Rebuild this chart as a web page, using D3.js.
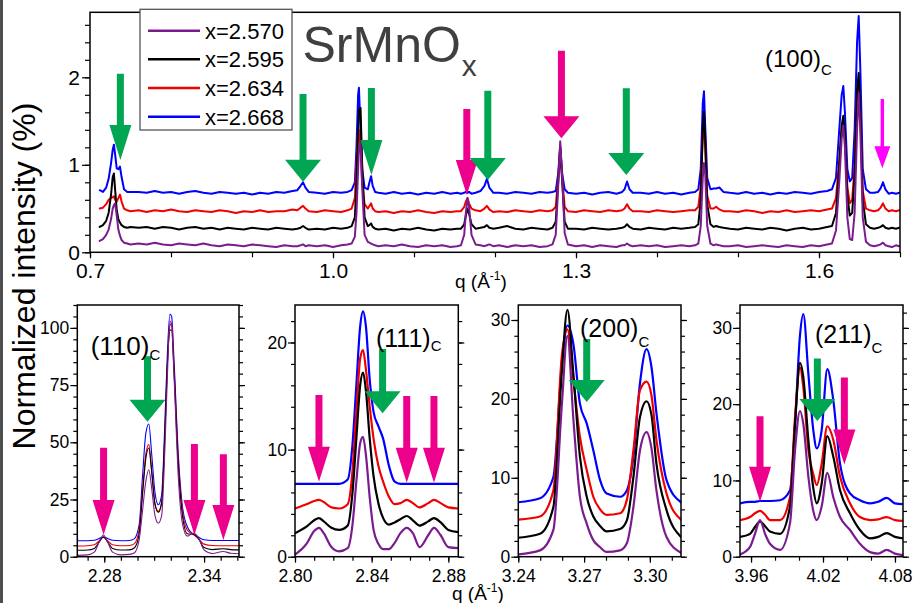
<!DOCTYPE html>
<html>
<head>
<meta charset="utf-8">
<script src="https://cdn.jsdelivr.net/npm/d3@7/dist/d3.min.js"></script>
<style>
  body { margin: 0; background: #fff; }
  svg { display: block; font-family: "Liberation Sans", Arial, Helvetica, sans-serif; }
</style>
</head>
<body>
<script>
// ---- series (oxygen content x) ----
const seriesNames  = ["x=2.570", "x=2.595", "x=2.634", "x=2.668"];
const seriesColors = ["#7b1c8e", "#000000", "#f00000", "#0000ff"];

// ---- wide scan, q = 0.71 .. 1.70 1/A (normalized intensity, %) ----
const qWide = [
  0.712,0.716,0.720,0.723,0.726,0.728,0.7295,0.731,0.733,0.735,0.737,0.739,0.742,0.746,0.750,
  0.76,0.77,0.78,0.79,0.80,0.81,0.82,0.83,0.84,0.85,0.86,0.87,0.88,0.89,0.90,0.91,0.92,0.93,0.94,0.95,
  0.956,0.960,0.963,0.966,0.970,
  0.98,0.99,1.00,1.01,1.018,
  1.023,1.027,1.029,1.031,1.032,1.034,1.036,1.039,1.043,1.045,1.047,1.049,1.052,1.056,
  1.065,1.075,1.085,1.095,1.105,1.115,1.125,1.135,1.145,1.153,
  1.158,1.162,1.164,1.166,1.168,1.171,1.176,1.182,1.187,1.190,1.193,1.198,
  1.205,1.215,1.225,1.235,1.245,1.255,1.265,1.271,
  1.275,1.278,1.2805,1.283,1.286,1.29,
  1.30,1.31,1.32,1.33,1.34,1.35,1.357,
  1.360,1.363,1.366,1.370,
  1.38,1.39,1.40,1.41,1.42,1.43,1.44,1.447,
  1.451,1.454,1.4565,1.458,1.4595,1.462,1.466,1.470,1.473,1.477,1.482,
  1.49,1.50,1.51,1.52,1.53,1.54,1.55,1.56,1.57,1.58,1.59,1.60,1.61,
  1.616,1.621,1.625,1.628,1.630,1.632,1.635,1.638,1.641,1.644,1.647,1.649,1.651,1.654,1.658,1.663,
  1.668,1.673,
  1.676,1.679,1.682,
  1.686,1.690,1.695,1.699
];
const wide2570 = [
  0.13,0.15,0.20,0.26,0.38,0.50,0.54,0.56,0.42,0.26,0.19,0.14,0.11,0.10,0.09,
  0.10,0.09,0.11,0.09,0.08,0.10,0.09,0.08,0.10,0.08,0.07,0.09,0.08,0.07,0.09,0.08,0.07,0.06,0.08,0.07,
  0.07,0.08,0.09,0.07,0.08,
  0.07,0.08,0.06,0.08,0.09,
  0.10,0.18,0.45,0.95,1.18,1.25,0.75,0.20,0.12,0.11,0.10,0.09,0.08,0.07,
  0.08,0.07,0.09,0.07,0.06,0.08,0.07,0.08,0.06,0.07,
  0.08,0.20,0.45,0.62,0.52,0.20,0.09,0.08,0.07,0.08,0.09,0.07,
  0.08,0.06,0.08,0.07,0.08,0.06,0.07,0.09,
  0.20,0.75,1.27,0.85,0.22,0.09,
  0.07,0.08,0.06,0.08,0.07,0.06,0.08,
  0.08,0.10,0.08,0.07,
  0.08,0.07,0.08,0.06,0.07,0.08,0.07,0.08,
  0.10,0.30,0.85,1.02,0.90,0.30,0.10,0.08,0.09,0.08,0.07,
  0.07,0.08,0.06,0.07,0.08,0.07,0.06,0.08,0.07,0.06,0.08,0.07,0.09,
  0.10,0.25,0.80,1.30,1.45,1.20,0.40,0.15,0.14,0.45,1.40,1.82,1.40,0.40,0.12,0.08,
  0.07,0.08,
  0.09,0.11,0.08,
  0.07,0.06,0.08,0.07
];
const wide2595 = [
  0.29,0.31,0.36,0.45,0.66,0.86,0.90,0.72,0.48,0.38,0.34,0.31,0.29,0.28,0.29,
  0.28,0.29,0.27,0.29,0.28,0.26,0.28,0.29,0.27,0.28,0.26,0.28,0.27,0.26,0.28,0.27,0.26,0.28,0.27,0.26,
  0.27,0.28,0.30,0.28,0.26,
  0.27,0.26,0.28,0.27,0.28,
  0.30,0.40,0.80,1.40,1.62,1.65,1.00,0.40,0.30,0.31,0.33,0.29,0.27,0.26,
  0.27,0.25,0.27,0.26,0.28,0.26,0.25,0.27,0.26,0.27,
  0.27,0.32,0.42,0.50,0.44,0.32,0.27,0.28,0.29,0.31,0.28,0.27,
  0.28,0.30,0.27,0.26,0.28,0.27,0.26,0.28,
  0.35,0.80,1.18,0.80,0.35,0.27,
  0.27,0.26,0.28,0.27,0.26,0.27,0.28,
  0.29,0.32,0.29,0.27,
  0.26,0.28,0.27,0.26,0.28,0.27,0.28,0.29,
  0.32,0.60,1.40,1.61,1.30,0.55,0.32,0.29,0.30,0.29,0.28,
  0.27,0.26,0.28,0.27,0.26,0.28,0.27,0.25,0.27,0.28,0.26,0.27,0.29,
  0.30,0.45,1.00,1.45,1.56,1.35,0.65,0.42,0.45,0.90,1.85,2.05,1.60,0.60,0.32,0.28,
  0.27,0.28,
  0.29,0.31,0.28,
  0.27,0.28,0.27,0.28
];
const wide2634 = [
  0.50,0.51,0.55,0.60,0.62,0.63,0.64,0.60,0.58,0.62,0.66,0.58,0.50,0.48,0.47,
  0.48,0.46,0.48,0.47,0.49,0.47,0.46,0.48,0.47,0.46,0.48,0.47,0.45,0.47,0.46,0.48,0.46,0.47,0.47,0.49,
  0.48,0.51,0.53,0.50,0.47,
  0.46,0.48,0.47,0.46,0.48,
  0.50,0.62,1.00,1.38,1.40,1.20,0.80,0.55,0.50,0.53,0.56,0.50,0.47,0.46,
  0.47,0.45,0.47,0.46,0.48,0.46,0.45,0.47,0.46,0.47,
  0.47,0.52,0.58,0.62,0.56,0.50,0.48,0.47,0.50,0.53,0.49,0.46,
  0.47,0.46,0.48,0.47,0.46,0.48,0.47,0.48,
  0.52,0.85,1.20,0.85,0.52,0.47,
  0.46,0.48,0.47,0.46,0.48,0.47,0.48,
  0.50,0.55,0.50,0.47,
  0.47,0.46,0.48,0.47,0.46,0.47,0.48,0.48,
  0.52,0.75,1.35,1.46,1.20,0.65,0.50,0.50,0.52,0.49,0.47,
  0.47,0.46,0.48,0.47,0.45,0.47,0.46,0.48,0.46,0.47,0.48,0.47,0.49,
  0.50,0.62,1.05,1.40,1.48,1.30,0.75,0.56,0.60,1.00,1.85,1.95,1.60,0.70,0.50,0.48,
  0.47,0.48,
  0.51,0.56,0.50,
  0.47,0.48,0.47,0.48
];
const wide2668 = [
  0.71,0.69,0.74,0.84,1.02,1.17,1.23,1.12,0.96,0.95,0.98,0.86,0.72,0.69,0.69,
  0.69,0.68,0.70,0.68,0.69,0.67,0.69,0.70,0.68,0.67,0.69,0.68,0.67,0.68,0.66,0.68,0.67,0.69,0.68,0.70,
  0.71,0.76,0.80,0.74,0.69,
  0.68,0.67,0.69,0.68,0.69,
  0.71,0.80,1.20,1.80,1.88,1.40,0.95,0.74,0.72,0.80,0.87,0.76,0.69,0.68,
  0.67,0.69,0.67,0.68,0.66,0.68,0.67,0.69,0.67,0.68,
  0.67,0.68,0.69,0.68,0.69,0.67,0.68,0.70,0.76,0.84,0.74,0.68,
  0.68,0.67,0.69,0.68,0.67,0.69,0.68,0.69,
  0.70,0.90,1.22,0.90,0.72,0.68,
  0.67,0.68,0.66,0.68,0.69,0.67,0.69,
  0.72,0.81,0.72,0.68,
  0.68,0.67,0.69,0.67,0.68,0.66,0.68,0.69,
  0.72,0.95,1.70,1.84,1.45,0.85,0.72,0.73,0.73,0.74,0.69,
  0.68,0.67,0.69,0.67,0.68,0.66,0.68,0.67,0.69,0.68,0.67,0.69,0.70,
  0.72,0.85,1.40,1.80,1.90,1.60,0.95,0.81,0.85,1.40,2.40,2.70,2.10,0.95,0.72,0.68,
  0.68,0.69,
  0.73,0.80,0.72,
  0.67,0.68,0.67,0.68
];

// ---- (110)c reflection ----
const q110 = [2.264,2.270,2.274,2.277,2.2795,2.282,2.285,2.290,2.295,2.298,2.301,2.303,2.305,2.3068,2.3085,2.3105,2.3125,2.3145,2.3165,2.318,2.3195,2.3205,2.322,2.3245,2.327,2.330,2.3335,2.3365,2.340,2.345,2.3515,2.356,2.361];
const p110_2570 = [0.6,0.8,2.0,6.5,9.5,6.5,2.0,0.8,1.0,1.6,7.5,20,33,38,30,18,14.7,18,48,80,103,101,78,35,14.5,9,10.3,8.5,3,1.4,2.3,1.5,1.3];
const p110_2595 = [2.8,2.9,3.6,6.5,8.6,6.5,3.6,2.9,3.0,3.8,10,27,43,47.5,37,23,19.4,23.5,55,85,99,99,80,40,18,10,9.8,8,4,3.1,3.5,3.1,3.0];
const p110_2634 = [4.7,4.8,5.2,7.0,8.6,7.0,5.2,4.8,4.9,5.6,12,29,45,49,38,23,19.8,24,55,85,101,102,82,42,20,11.5,9.8,8,5.5,4.9,4.8,4.8,4.8];
const p110_2668 = [7.0,7.0,7.2,8.0,8.6,8.0,7.2,7.0,7.1,7.8,14,35,54,58,45,28,22.7,27,60,90,106,105,85,45,22,13,9.8,8.6,7.4,7.1,7.1,7.1,7.1];

// ---- (111)c reflection ----
const q111 = [2.800,2.806,2.810,2.8125,2.815,2.819,2.823,2.8275,2.830,2.832,2.834,2.8355,2.837,2.839,2.841,2.8435,2.846,2.849,2.852,2.855,2.8583,2.8615,2.865,2.8695,2.8725,2.876,2.880,2.8852];
const p111_2570 = [0.2,1.2,2.4,2.7,2.2,0.9,0.5,0.8,3.0,7.0,10.6,11.2,9.5,5.5,2.5,1.2,0.7,0.7,1.3,2.2,2.7,2.2,0.9,2.0,2.7,2.0,0.9,0.8];
const p111_2595 = [2.2,2.8,3.4,3.6,3.3,2.7,2.5,2.9,6.0,11,16,17.2,15.5,11.0,7.5,5.0,3.6,3.0,3.2,3.5,3.8,3.4,2.9,3.3,3.6,3.2,2.5,2.3];
const p111_2634 = [4.5,4.9,5.2,5.3,5.1,4.6,4.5,4.9,8.0,13.5,18.5,19.3,17.5,14.0,11.0,8.5,7.0,5.6,4.9,5.0,5.3,5.0,4.6,5.0,5.3,5.0,4.6,4.5];
const p111_2668 = [6.8,6.8,6.8,6.8,6.8,6.8,6.8,7.2,10.5,16,21.5,22.9,21.5,16.5,13.5,12.2,11.0,8.5,7.0,6.8,6.8,6.8,6.8,6.8,6.8,6.8,6.8,6.8];

// ---- (200)c reflection ----
const q200 = [3.240,3.2499,3.2560,3.2598,3.2624,3.2651,3.2681,3.2712,3.2742,3.2773,3.2803,3.2864,3.2895,3.2925,3.2955,3.2985,3.3007,3.303,3.3076,3.3142];
const p200_2570 = [0.3,0.8,3.4,19.0,28.0,17.5,7.6,4.2,2.1,1.2,0.6,0.8,1.7,6.3,13.5,15.8,13.8,8.4,2.5,0.5];
const p200_2595 = [2.4,2.9,6.3,23.2,31.3,23.2,12.7,7.6,5.1,3.9,3.2,3.5,4.6,10.1,17.7,19.7,18.0,11.8,5.9,2.5];
const p200_2634 = [4.7,5.1,8.4,25.3,28.8,22.5,15.2,11.0,7.6,6.0,5.3,5.5,7.2,13.5,21.1,22.2,20.5,14.8,8.0,4.7];
const p200_2668 = [6.9,7.4,10.1,24.0,29.3,27.0,19.4,16.9,13.5,9.7,8.0,7.6,8.4,12.7,22.0,26.3,24.1,18.2,9.7,6.9];

// ---- (211)c reflection ----
const q211 = [3.9508,3.9592,3.9633,3.9675,3.9717,3.9758,3.9842,3.9925,3.9967,4.0008,4.0036,4.0078,4.0119,4.0148,4.0189,4.0236,4.0286,4.0342,4.0425,4.0508,4.0592,4.0661,4.0731,4.0800,4.0869];
const p211_2570 = [0.3,1.3,3.0,4.8,3.0,1.7,0.9,4.4,14.0,19.1,17.4,10.5,6.0,4.8,6.6,11.0,7.8,5.2,3.5,1.7,0.6,0.4,0.9,0.4,0.2];
const p211_2595 = [2.6,3.0,3.9,4.6,4.0,3.3,3.0,6.6,17.4,25.4,23.5,15.3,9.0,7.0,9.6,15.8,13.1,8.7,5.7,3.5,2.4,2.6,3.1,2.6,2.4];
const p211_2634 = [4.8,5.2,5.7,6.0,5.5,4.8,4.8,7.8,18.3,24.8,22.2,14.0,10.8,9.4,12.2,17.1,15.3,10.5,7.0,5.2,4.8,4.9,5.2,4.8,4.7];
const p211_2668 = [7.0,7.2,7.2,7.3,7.3,7.3,7.4,8.7,17.4,29.0,31.8,24.0,16.6,14.2,16.6,24.6,20.5,12.2,8.3,7.4,7.0,7.2,7.7,7.0,6.9];

// ---- tick labels ----
const ticksWideX = [0.7, 1.0, 1.3, 1.6];
const ticksWideY = [0, 1, 2];
const ticks110X = [2.28, 2.34];
const ticks110Y = [0, 25, 50, 75, 100];
const ticks111X = [2.80, 2.84, 2.88];
const ticks111Y = [0, 10, 20];
const ticks200X = [3.24, 3.27, 3.30];
const ticks200Y = [0, 10, 20, 30];
const ticks211X = [3.96, 4.02, 4.08];
const ticks211Y = [0, 10, 20, 30];

// ---- marker arrows: [q, tip intensity, tail intensity, colour, shape] ----
const arrowsWide = [
  [0.7375, 1.055, 2.04, "green", "tall"],
  [0.963, 0.807, 1.81, "green", "wide"],
  [1.0474, 0.883, 1.878, "green", "tall"],
  [1.1652, 0.655, 1.638, "magenta", "tall"],
  [1.1911, 0.826, 1.847, "green", "wide"],
  [1.282, 1.303, 2.304, "magenta", "wide"],
  [1.3621, 0.883, 1.874, "green", "wide"],
  [1.6782, 0.96, 1.752, "pink", "thin"]
];
const arrows110 = [
  [2.2796, 9.5, 47.6, "magenta", "tall"],
  [2.306, 59, 87.6, "green", "wide"],
  [2.3342, 9.5, 49.2, "magenta", "tall"],
  [2.3516, 7.3, 44.8, "magenta", "tall"]
];
const arrows111 = [
  [2.8125, 7.0, 15.1, "magenta", "tall"],
  [2.8457, 13.4, 19.4, "green", "wide"],
  [2.8583, 6.9, 15.0, "magenta", "tall"],
  [2.8725, 6.9, 15.0, "magenta", "tall"]
];
const arrows200 = [
  [3.2712, 19.6, 27.6, "green", "wide"]
];
const arrows211 = [
  [3.9675, 7.2, 18.4, "magenta", "tall"],
  [4.0153, 17.8, 26.0, "green", "wide"],
  [4.0378, 12.1, 23.5, "magenta", "tall"]
];

// ---------------------------------------------------------------
const FONT = '"Liberation Sans", Arial, Helvetica, sans-serif';
const arrowShapes = { tall: { w: 22, h: 35, s: 7 }, wide: { w: 36, h: 22, s: 7 }, thin: { w: 16, h: 22, s: 3.4 } };
const arrowColors = { green: "#00a651", magenta: "#ec008c", pink: "#ff00ff" };

const svg = d3.select("body").append("svg").attr("width", 913).attr("height", 603);
svg.append("rect").attr("width", 913).attr("height", 603).attr("fill", "#fff");
svg.append("rect").attr("x", 0).attr("y", 0).attr("width", 3).attr("height", 603).attr("fill", "#4d4d4d");

function minorTicks(domain, step) {
  const a = Math.ceil(domain[0] / step - 1e-6), b = Math.floor(domain[1] / step + 1e-6);
  return d3.range(a, b + 1).map(i => +(i * step).toFixed(6));
}

function makePanel(cfg) {
  const p = Object.assign({}, cfg);
  p.x = d3.scaleLinear().domain(cfg.xd).range([cfg.x0, cfg.x1]);
  p.y = d3.scaleLinear().domain(cfg.yd).range([cfg.y1, cfg.y0]);
  p.g = svg.append("g");
  const id = "clip" + Math.round(cfg.x0);
  p.g.append("clipPath").attr("id", id).append("rect")
    .attr("x", cfg.x0).attr("y", cfg.y0).attr("width", cfg.x1 - cfg.x0).attr("height", cfg.y1 - cfg.y0);
  p.plot = p.g.append("g").attr("clip-path", `url(#${id})`);
  return p;
}

function styleAxis(sel, fs) {
  sel.select(".domain").remove();
  sel.selectAll("line").attr("stroke", "#000").attr("stroke-width", 1.2);
  sel.selectAll("text").attr("font-size", fs).attr("fill", "#000").attr("font-family", FONT);
}

function drawAxes(p) {
  const g = p.g.append("g");
  const xd = p.x.domain(), yd = p.y.domain();
  // bottom
  g.append("g").attr("transform", `translate(0,${p.y1})`)
    .call(d3.axisBottom(p.x).tickValues(minorTicks(xd, p.xStep)).tickSize(p.minLen).tickFormat(""))
    .call(styleAxis, p.fs);
  g.append("g").attr("transform", `translate(0,${p.y1})`)
    .call(d3.axisBottom(p.x).tickValues(p.xMajor).tickSize(p.majLenX).tickPadding(p.padX).tickFormat(d3.format(p.xFmt)))
    .call(styleAxis, p.fs);
  // left
  g.append("g").attr("transform", `translate(${p.x0},0)`)
    .call(d3.axisLeft(p.y).tickValues(minorTicks(yd, p.yStep)).tickSize(p.minLen).tickFormat(""))
    .call(styleAxis, p.fs);
  g.append("g").attr("transform", `translate(${p.x0},0)`)
    .call(d3.axisLeft(p.y).tickValues(p.yMajor).tickSize(p.majLenY).tickPadding(p.padY).tickFormat(d3.format("d")))
    .call(styleAxis, p.fs);
  // right (mirror ticks)
  if (p.right) {
    g.append("g").attr("transform", `translate(${p.x1},0)`)
      .call(d3.axisRight(p.y).tickValues(minorTicks(yd, p.yStep)).tickSize(p.minLen).tickFormat(""))
      .call(styleAxis, p.fs);
    g.append("g").attr("transform", `translate(${p.x1},0)`)
      .call(d3.axisRight(p.y).tickValues(p.yMajor).tickSize(p.majLenY - 1).tickFormat(""))
      .call(styleAxis, p.fs);
  }
  g.append("rect").attr("x", p.x0).attr("y", p.y0)
    .attr("width", p.x1 - p.x0).attr("height", p.y1 - p.y0)
    .attr("fill", "none").attr("stroke", "#000").attr("stroke-width", 1.5);
}

function drawSeries(p, q, lists, width, curve) {
  const line = d3.line().x(d => p.x(d[0])).y(d => p.y(d[1])).curve(curve);
  [3, 2, 1, 0].forEach(i => {
    p.plot.append("path").datum(d3.zip(q, lists[i]))
      .attr("d", line).attr("fill", "none")
      .attr("stroke", seriesColors[i]).attr("stroke-width", width)
      .attr("stroke-linejoin", "round").attr("stroke-linecap", "round");
  });
}

function drawArrows(p, list) {
  list.forEach(([q, tip, tail, col, shape]) => {
    const s = arrowShapes[shape];
    const x = p.x(q), yt = p.y(tip), y0 = p.y(tail), yh = yt - s.h;
    const pts = [
      [x - s.s / 2, y0], [x + s.s / 2, y0], [x + s.s / 2, yh], [x + s.w / 2, yh],
      [x, yt], [x - s.w / 2, yh], [x - s.s / 2, yh]
    ];
    p.g.append("polygon").attr("points", pts.map(d => d.join(",")).join(" "))
      .attr("fill", arrowColors[col]);
  });
}

function reflectionLabel(x, y, main, sub, fs, subFs, subDx, subDy) {
  const t = svg.append("text").attr("x", x).attr("y", y)
    .attr("font-size", fs).attr("fill", "#000").attr("font-family", FONT);
  t.append("tspan").text(main);
  t.append("tspan").attr("font-size", subFs).attr("dx", subDx).attr("dy", subDy).text(sub);
}

function qLabel(x, y) {
  const t = svg.append("text").attr("x", x).attr("y", y)
    .attr("font-size", 19).attr("fill", "#000").attr("font-family", FONT);
  t.append("tspan").text("q (Å");
  t.append("tspan").attr("font-size", 12).attr("dy", -8).text("-1");
  t.append("tspan").attr("dy", 8).text(")");
}

// ---- wide-range panel ----
const pWide = makePanel({
  x0: 90, x1: 900, y0: 12.3, y1: 252.3, xd: [0.7, 1.7], yd: [0, 2.743],
  xMajor: ticksWideX, xStep: 0.1, xFmt: ".1f", yMajor: ticksWideY, yStep: 0.2,
  fs: 21, minLen: 5, majLenX: 6, majLenY: 8, padX: 5, padY: 2, right: false
});
drawSeries(pWide, qWide, [wide2570, wide2595, wide2634, wide2668], 2, d3.curveLinear);
drawAxes(pWide);
drawArrows(pWide, arrowsWide);

// ---- zoomed reflections ----
const common = { y0: 305, y1: 556.7, fs: 17.5, minLen: 4, majLenX: 6, majLenY: 7, padX: 7, padY: 1, right: true, xFmt: ".2f" };
const p110 = makePanel(Object.assign({}, common, { x0: 77.3, x1: 239, xd: [2.2638, 2.361], yd: [0, 110], xMajor: ticks110X, xStep: 0.01, yMajor: ticks110Y, yStep: 5 }));
const p111 = makePanel(Object.assign({}, common, { x0: 295, x1: 458.3, xd: [2.80, 2.8852], yd: [0, 23.5], xMajor: ticks111X, xStep: 0.01, yMajor: ticks111Y, yStep: 2 }));
const p200 = makePanel(Object.assign({}, common, { x0: 518.3, x1: 681, xd: [3.24, 3.3142], yd: [0, 31.9], xMajor: ticks200X, xStep: 0.01, yMajor: ticks200Y, yStep: 2 }));
const p211 = makePanel(Object.assign({}, common, { x0: 740, x1: 903, xd: [3.9508, 4.0867], yd: [0, 33], xMajor: ticks211X, xStep: 0.02, yMajor: ticks211Y, yStep: 2 }));

drawSeries(p110, q110, [p110_2570, p110_2595, p110_2634, p110_2668], 1.1, d3.curveMonotoneX);
drawSeries(p111, q111, [p111_2570, p111_2595, p111_2634, p111_2668], 2.2, d3.curveMonotoneX);
drawSeries(p200, q200, [p200_2570, p200_2595, p200_2634, p200_2668], 2.2, d3.curveMonotoneX);
drawSeries(p211, q211, [p211_2570, p211_2595, p211_2634, p211_2668], 2.2, d3.curveMonotoneX);
[p110, p111, p200, p211].forEach(drawAxes);
drawArrows(p110, arrows110);
drawArrows(p111, arrows111);
drawArrows(p200, arrows200);
drawArrows(p211, arrows211);

// ---- texts ----
const title = svg.append("text").attr("x", 302.5).attr("y", 61.7)
  .attr("font-size", 50).attr("fill", "#404040").attr("font-family", FONT);
title.append("tspan").text("SrMnO");
title.append("tspan").attr("font-size", 30).attr("dx", 1).attr("dy", 14.3).text("x");

reflectionLabel(765, 66.7, "(100)", "C", 24, 15, 0, 8.3);
reflectionLabel(90.7, 355, "(110)", "C", 26, 15, 0, 5);
reflectionLabel(376, 346.7, "(111)", "C", 25, 15, 0, 4.3);
reflectionLabel(580, 336.7, "(200)", "C", 25, 15, 0, 10.3);
reflectionLabel(815, 343.3, "(211)", "C", 25, 15, 0, 9.7);

qLabel(455, 288);
qLabel(452, 600);

svg.append("text")
  .attr("transform", "translate(35,276) rotate(-90)")
  .attr("text-anchor", "middle").attr("font-size", 32).attr("fill", "#000").attr("font-family", FONT)
  .text("Normalized intensity (%)");

// ---- legend ----
const lg = svg.append("g");
lg.append("rect").attr("x", 140).attr("y", 9.3).attr("width", 152).attr("height", 120.7)
  .attr("fill", "#fff").attr("stroke", "#555").attr("stroke-width", 1.3);
const legendY = d3.scalePoint().domain(seriesNames).range([30.7, 116.7]);
seriesNames.forEach((name, i) => {
  const yy = legendY(name);
  lg.append("line").attr("x1", 148).attr("x2", 200).attr("y1", yy).attr("y2", yy)
    .attr("stroke", seriesColors[i]).attr("stroke-width", 2.5);
  lg.append("text").attr("x", 205).attr("y", yy + 7.9)
    .attr("font-size", 22).attr("fill", "#000").attr("font-family", FONT).text(name);
});
</script>
</body>
</html>
